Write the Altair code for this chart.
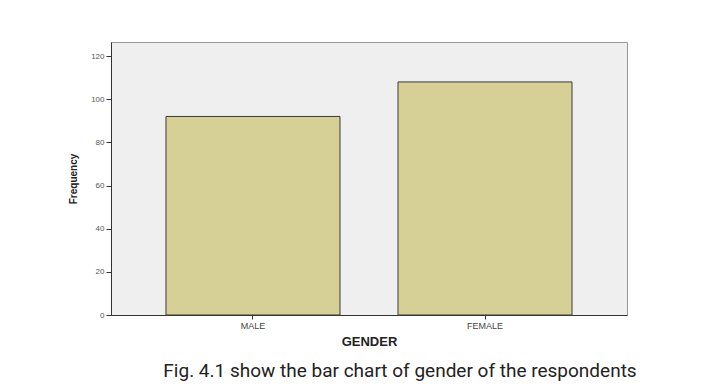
import altair as alt
import pandas as pd

genders = ["MALE", "FEMALE"]
freqs = [92, 108]

df = pd.DataFrame({"GENDER": genders, "Frequency": freqs})

chart = alt.Chart(df).mark_bar(
    fill="#d6cf96", stroke="#3a3a3a", strokeWidth=1
).encode(
    x=alt.X("GENDER:N", sort=genders,
            scale=alt.Scale(paddingInner=0.25, paddingOuter=0.237),
            axis=alt.Axis(title="GENDER", labelAngle=0, labelFontSize=9,
                          labelColor="#444", labelFont="Liberation Sans",
                          titleFont="Liberation Sans", titleFontSize=13,
                          titleFontWeight="bold", titleColor="#222",
                          tickColor="#333", domainColor="#333",
                          tickSize=4, labelPadding=2, titlePadding=5)),
    y=alt.Y("Frequency:Q", scale=alt.Scale(domain=[0, 126.5], nice=False),
            axis=alt.Axis(title="Frequency", values=[0, 20, 40, 60, 80, 100, 120],
                          grid=False, labelFontSize=8, labelColor="#555",
                          labelFont="Liberation Sans", titleFont="Liberation Sans",
                          titleFontSize=10, titleFontWeight="bold",
                          titleColor="#222", tickColor="#333",
                          domainColor="#333", tickSize=5, labelPadding=2,
                          titlePadding=12)),
).properties(
    width=516, height=273,
    autosize=alt.AutoSizeParams(type="none"),
    padding={"left": 103, "top": 34, "right": 85, "bottom": 68},
    title=alt.TitleParams(
        "Fig. 4.1 show the bar chart of gender of the respondents",
        orient="bottom", anchor="middle", font="Roboto", fontSize=19,
        fontWeight="normal", color="#222", dx=31, offset=14),
).configure(
    background="white"
).configure_view(
    fill="#efefef", stroke="#999", strokeWidth=1
)

chart.save("out.html", embed_options={"renderer": "svg", "actions": False})
